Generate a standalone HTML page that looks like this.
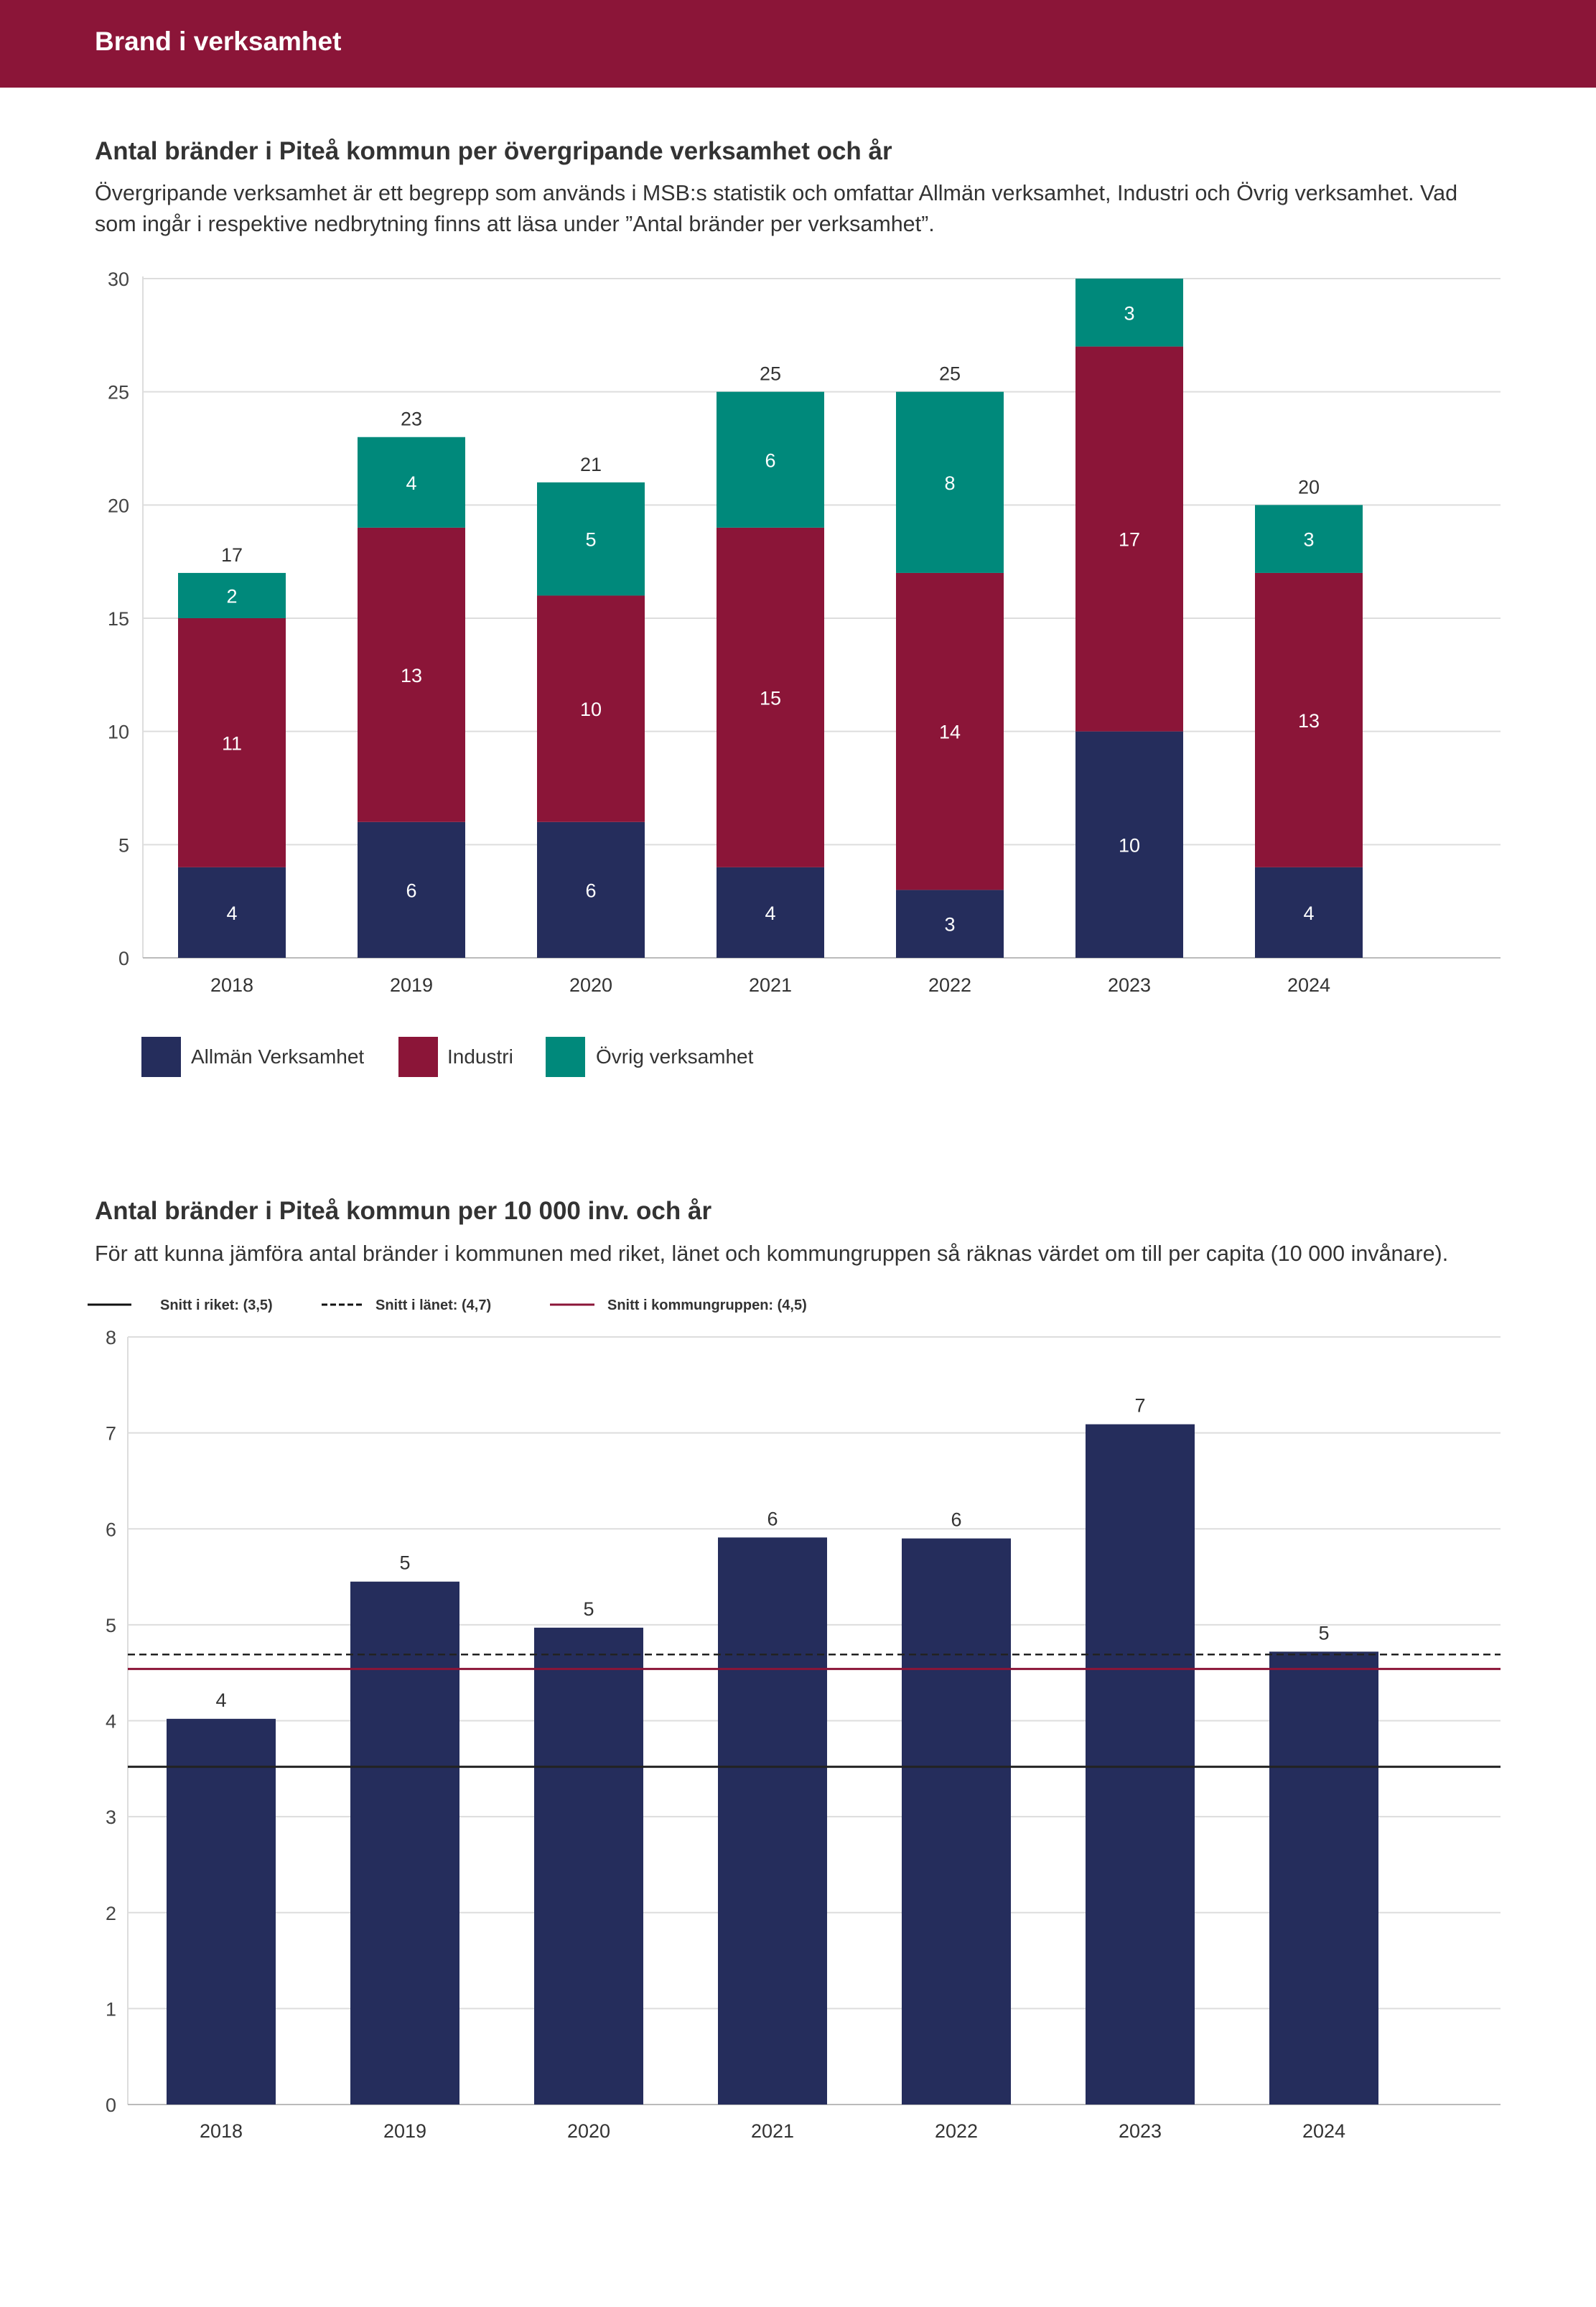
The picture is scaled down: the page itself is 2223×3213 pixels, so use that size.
<!DOCTYPE html>
<html><head><meta charset="utf-8"><style>
html,body{margin:0;padding:0;background:#fff;width:2223px;height:3213px;overflow:hidden}
svg{display:block;font-family:"Liberation Sans",sans-serif}
</style></head><body>
<svg id="s" width="2223" height="3213" viewBox="0 0 2223 3213" xmlns="http://www.w3.org/2000/svg">
<rect x="0" y="0" width="2223" height="122" fill="#8b1538"/>
<text x="132" y="70" font-size="37" font-weight="bold" fill="#fff">Brand i verksamhet</text>
<text x="132" y="222" font-size="35" font-weight="bold" fill="#333">Antal bränder i Piteå kommun per övergripande verksamhet och år</text>
<text x="132" y="279" font-size="30.5" fill="#333">Övergripande verksamhet är ett begrepp som används i MSB:s statistik och omfattar Allmän verksamhet, Industri och Övrig verksamhet. Vad</text>
<text x="132" y="322" font-size="30.5" fill="#333">som ingår i respektive nedbrytning finns att läsa under ”Antal bränder per verksamhet”.</text>
<g id="c1"></g>
<g>
<rect x="197" y="1444" width="55" height="56" fill="#252d5c"/>
<text x="266" y="1481" font-size="28" fill="#333">Allmän Verksamhet</text>
<rect x="555" y="1444" width="55" height="56" fill="#8b1538"/>
<text x="623" y="1481" font-size="28" fill="#333">Industri</text>
<rect x="760" y="1444" width="55" height="56" fill="#00897b"/>
<text x="830" y="1481" font-size="28" fill="#333">Övrig verksamhet</text>
</g>
<text x="132" y="1698" font-size="35" font-weight="bold" fill="#333">Antal bränder i Piteå kommun per 10 000 inv. och år</text>
<text x="132" y="1756" font-size="30.5" fill="#333">För att kunna jämföra antal bränder i kommunen med riket, länet och kommungruppen så räknas värdet om till per capita (10 000 invånare).</text>
<g>
<line x1="122" y1="1817" x2="183" y2="1817" stroke="#111" stroke-width="3"/>
<text x="223" y="1824" font-size="20" font-weight="bold" fill="#333">Snitt i riket: (3,5)</text>
<line x1="448" y1="1817" x2="508" y2="1817" stroke="#111" stroke-width="3" stroke-dasharray="8,4"/>
<text x="523" y="1824" font-size="20" font-weight="bold" fill="#333">Snitt i länet: (4,7)</text>
<line x1="766" y1="1817" x2="828" y2="1817" stroke="#8b1538" stroke-width="3"/>
<text x="846" y="1824" font-size="20" font-weight="bold" fill="#333">Snitt i kommungruppen: (4,5)</text>
</g>
<g id="c2"></g>
</svg>
<script>
const years = ["2018","2019","2020","2021","2022","2023","2024"];
const allman = [4,6,6,4,3,10,4];
const industri = [11,13,10,15,14,17,13];
const ovrig = [2,4,5,6,8,3,3];
const yTicks1 = [0,5,10,15,20,25,30];
const perCapita = [4.02,5.45,4.97,5.91,5.90,7.09,4.72];
const perCapitaLabels = ["4","5","5","6","6","7","5"];
const yTicks2 = [0,1,2,3,4,5,6,7,8];
const snittRiket = 3.52;
const snittLanet = 4.69;
const snittKommungrupp = 4.54;

const NS="http://www.w3.org/2000/svg";
function mk(p,tag,a,txt){const e=document.createElementNS(NS,tag);for(const k in a)e.setAttribute(k,a[k]);if(txt!==undefined)e.textContent=txt;p.appendChild(e);return e;}

// Chart 1
const c1=document.getElementById('c1');
const L1=199,R1=2090,Y0=1334,Y30=388;
const yMax1=yTicks1[yTicks1.length-1];
const y1=v=>Y0-(v/yMax1)*(Y0-Y30);
const x1=i=>323+i*250;
const bw1=150;
mk(c1,'line',{x1:L1,y1:Y30-3,x2:L1,y2:Y0,stroke:'#ddd','stroke-width':2});
yTicks1.forEach(t=>{
 const g=mk(c1,'line',{x1:L1,y1:y1(t),x2:R1,y2:y1(t),stroke:t===0?'#bbb':'#ddd','stroke-width':2});
 
 
 const l=mk(c1,'text',{x:180,y:y1(t)+10,'font-size':27,fill:'#444','text-anchor':'end'},String(t));
 
 
});
years.forEach((yr,i)=>{
 const segs=[[allman[i],'#252d5c','allman'],[industri[i],'#8b1538','industri'],[ovrig[i],'#00897b','ovrig']];
 let base=0;
 segs.forEach(([v,c,n])=>{
  const r=mk(c1,'rect',{x:x1(i)-bw1/2,y:y1(base+v),width:bw1,height:y1(base)-y1(base+v),fill:c});
  
  
  const t=mk(c1,'text',{x:x1(i),y:(y1(base)+y1(base+v))/2+10,'font-size':27,fill:'#fff','text-anchor':'middle'},String(v));
  
  
  base+=v;
 });
 if(base<yMax1){
  const tt=mk(c1,'text',{x:x1(i),y:y1(base)-16,'font-size':27,fill:'#333','text-anchor':'middle'},String(base));
  
  
 }
 const xl=mk(c1,'text',{x:x1(i),y:1381,'font-size':27,fill:'#333','text-anchor':'middle'},yr);
 
 
});

// Chart 2
const c2=document.getElementById('c2');
const L2=178,R2=2090,B2=2931,T2=1862;
const y2=v=>B2-(v/8)*(B2-T2);
const x2=i=>308+i*256;
const bw2=152;
mk(c2,'line',{x1:L2,y1:T2,x2:L2,y2:B2,stroke:'#ddd','stroke-width':2});
yTicks2.forEach(t=>{
 const g=mk(c2,'line',{x1:L2,y1:y2(t),x2:R2,y2:y2(t),stroke:t===0?'#bbb':'#ddd','stroke-width':2});
 
 
 const l=mk(c2,'text',{x:162,y:y2(t)+10,'font-size':27,fill:'#444','text-anchor':'end'},String(t));
 
 
});
years.forEach((yr,i)=>{
 const r=mk(c2,'rect',{x:x2(i)-bw2/2,y:y2(perCapita[i]),width:bw2,height:B2-y2(perCapita[i]),fill:'#252d5c'});
 
 
 const t=mk(c2,'text',{x:x2(i),y:y2(perCapita[i])-17,'font-size':27,fill:'#333','text-anchor':'middle'},perCapitaLabels[i]);
 
 
 const xl=mk(c2,'text',{x:x2(i),y:2977,'font-size':27,fill:'#333','text-anchor':'middle'},yr);
 
 
});
const lr=mk(c2,'line',{x1:L2,y1:y2(snittRiket),x2:R2,y2:y2(snittRiket),stroke:'#222','stroke-width':3});


const ll=mk(c2,'line',{x1:L2,y1:y2(snittLanet),x2:R2,y2:y2(snittLanet),stroke:'#222','stroke-width':2.5,'stroke-dasharray':'10,6'});


const lk=mk(c2,'line',{x1:L2,y1:y2(snittKommungrupp),x2:R2,y2:y2(snittKommungrupp),stroke:'#8b1538','stroke-width':3});


</script>
</body></html>
